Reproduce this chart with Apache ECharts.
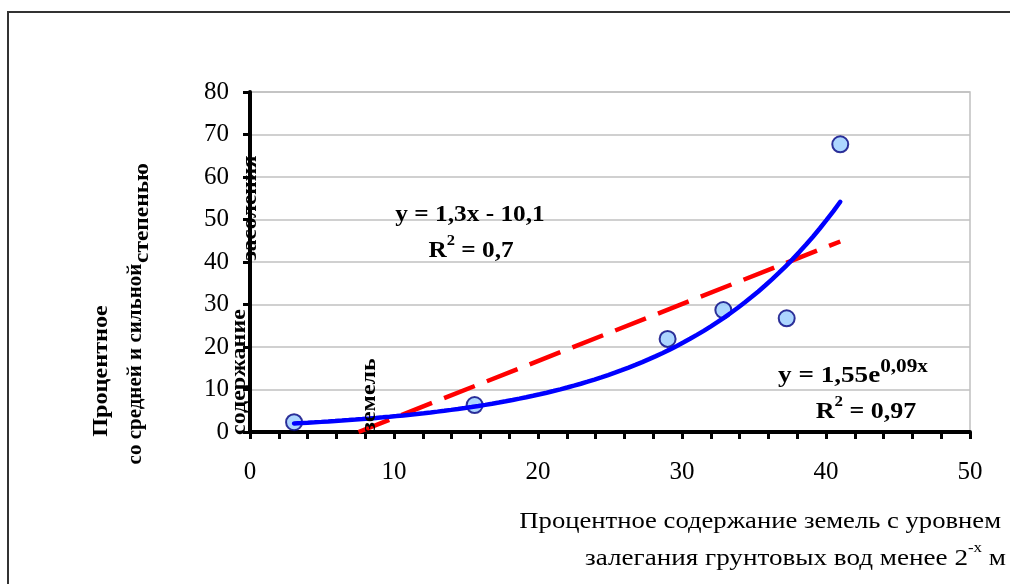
<!DOCTYPE html>
<html>
<head>
<meta charset="utf-8">
<script src="https://cdn.jsdelivr.net/npm/echarts@6/dist/echarts.min.js"></script>
<style>
  html, body { margin: 0; padding: 0; background: #ffffff; }
  #chart { width: 1010px; height: 584px; }
</style>
</head>
<body>
<div id="chart"></div>
<script>
// Share of land with shallow groundwater (x) vs share of medium/strongly saline land (y)
const xLand  = [3.06, 15.6, 29.0, 32.87, 37.27, 40.99];
const ySaline = [2.3, 6.35, 21.9, 28.7, 26.75, 67.7];

// Axis ranges and ticks
const xAxisMin = 0, xAxisMax = 50, xStep = 10;
const yAxisMin = 0, yAxisMax = 80, yStep = 10;

// Trend line coefficients (shown rounded in the labels)
const linSlope = 1.34, linIntercept = -10.1;
const expA = 1.55, expB = 0.0867;

// Label texts
const linEqText = ['y = 1,3x - 10,1', 'R', '2', ' = 0,7'];
const expEqText = ['y = 1,55e', '0,09x', 'R', '2', ' = 0,97'];
const xTitle1 = 'Процентное содержание земель с уровнем';
const xTitle2 = ['залегания грунтовых вод менее 2', '-x', ' м'];

const SERIF = '"Liberation Serif", "Times New Roman", serif';

const points = xLand.map((x, i) => [x, ySaline[i]]);
const xMinData = Math.min(...xLand), xMaxData = Math.max(...xLand);

// Linear trend, clipped where it crosses y = 0
const linStart = Math.max(xMinData, -linIntercept / linSlope);
const linTrend = [linStart, xMaxData].map(x => [x, linSlope * x + linIntercept]);

// Exponential trend across the data range
const expTrend = [];
const nSteps = 80;
for (let i = 0; i <= nSteps; i++) {
  const x = xMinData + (xMaxData - xMinData) * i / nSteps;
  expTrend.push([x, expA * Math.exp(expB * x)]);
}

// vertical (bottom-to-top) bold text; sx stretches along the text direction
function vText(txt, x, y, size, sx) {
  return {
    type: 'text', x: x, y: y, rotation: Math.PI / 2, scaleX: sx || 1, z: 50,
    style: {
      text: txt, fill: '#000',
      font: 'bold ' + size + 'px ' + SERIF,
      align: 'center', verticalAlign: 'middle',
      textAlign: 'center', textVerticalAlign: 'middle'
    }
  };
}

function hText(txt, x, y, size, bold, align, sx, rich) {
  const s = {
    text: txt, fill: '#000',
    font: (bold ? 'bold ' : '') + size + 'px ' + SERIF,
    align: align || 'center', verticalAlign: 'middle',
    textAlign: align || 'center', textVerticalAlign: 'middle'
  };
  if (rich) s.rich = rich;
  return { type: 'text', x: x, y: y, scaleX: sx || 1, z: 50, style: s };
}

function richStyles(bold, size, supSize) {
  const w = bold ? 'bold' : 'normal';
  return {
    n: { fontFamily: SERIF, fontWeight: w, fontSize: size, lineHeight: size + 6, verticalAlign: 'bottom' },
    s: { fontFamily: SERIF, fontWeight: w, fontSize: supSize, lineHeight: size + 6, verticalAlign: 'top', padding: [0, 0, Math.round(size * 0.5), 0] }
  };
}
const eqRich = richStyles(true, 23, 15);
const expRich = richStyles(true, 23, 18);
const titleRich = richStyles(false, 24, 15);

const chart = echarts.init(document.getElementById('chart'), null, { renderer: 'canvas' });

chart.setOption({
  animation: false,
  backgroundColor: '#ffffff',
  grid: {
    left: 250, right: 40, top: 92, bottom: 152,
    show: true, borderColor: '#c0c0c0', borderWidth: 1.5, backgroundColor: 'transparent'
  },
  xAxis: {
    type: 'value', min: xAxisMin, max: xAxisMax, interval: xStep,
    axisLine: { show: true, onZero: false, lineStyle: { color: '#000', width: 4 } },
    axisTick: { show: true, inside: false, length: 7, lineStyle: { color: '#000', width: 3 } },
    minorTick: { show: true, splitNumber: 5, length: 7, lineStyle: { color: '#000', width: 3 } },
    splitLine: { show: false },
    axisLabel: { color: '#000', fontFamily: SERIF, fontSize: 25, margin: 28 }
  },
  yAxis: {
    type: 'value', min: yAxisMin, max: yAxisMax, interval: yStep,
    axisLine: { show: true, onZero: false, lineStyle: { color: '#000', width: 4 } },
    axisTick: { show: true, inside: false, length: 7, lineStyle: { color: '#000', width: 3 } },
    splitLine: { show: true, lineStyle: { color: '#c0c0c0', width: 1.5 } },
    axisLabel: { color: '#000', fontFamily: SERIF, fontSize: 25, margin: 21 }
  },
  series: [
    {
      type: 'scatter', data: points, symbol: 'circle', symbolSize: 16, z: 3,
      itemStyle: { color: '#99ccff', borderColor: '#000080', borderWidth: 2 }
    },
    {
      type: 'line', data: linTrend, showSymbol: false, symbol: 'none', z: 5,
      lineStyle: { color: '#ff0000', width: 4.5, type: [33, 13], cap: 'butt' }
    },
    {
      type: 'line', data: expTrend, showSymbol: false, symbol: 'none', z: 6, smooth: false,
      lineStyle: { color: '#0000ff', width: 4.5, cap: 'round' }
    }
  ],
  graphic: [
    // outer frame
    {
      type: 'rect', z: 0, silent: true,
      shape: { x: 8, y: 12, width: 1010, height: 590 },
      style: { fill: 'none', stroke: '#333333', lineWidth: 2 }
    },
    // y-axis title pieces
    vText('Процентное', 102, 371, 21, 1.15),
    vText('со средней и сильной', 136, 364, 21, 1.0),
    vText('степенью', 143, 213, 20, 1.17),
    vText('засоления', 251, 208, 20, 1.16),
    vText('содержание', 240, 372, 20, 1.2),
    vText('земель', 370, 395, 20, 1.2),
    // equations
    hText(linEqText[0], 470, 215, 23, true, 'center', 1.1),
    hText('{n|' + linEqText[1] + '}{s|' + linEqText[2] + '}{n|' + linEqText[3] + '}', 471, 248, 23, true, 'center', 1.1, eqRich),
    hText('{n|' + expEqText[0] + '}{s|' + expEqText[1] + '}', 853, 373, 23, true, 'center', 1.18, expRich),
    hText('{n|' + expEqText[2] + '}{s|' + expEqText[3] + '}{n|' + expEqText[4] + '}', 866, 409, 23, true, 'center', 1.13, eqRich),
    // x-axis title
    hText(xTitle1, 1001, 522, 24, false, 'right', 1.11),
    hText('{n|' + xTitle2[0] + '}{s|' + xTitle2[1] + '}{n|' + xTitle2[2] + '}', 1006, 556, 24, false, 'right', 1.13, titleRich)
  ]
});
</script>
</body>
</html>
